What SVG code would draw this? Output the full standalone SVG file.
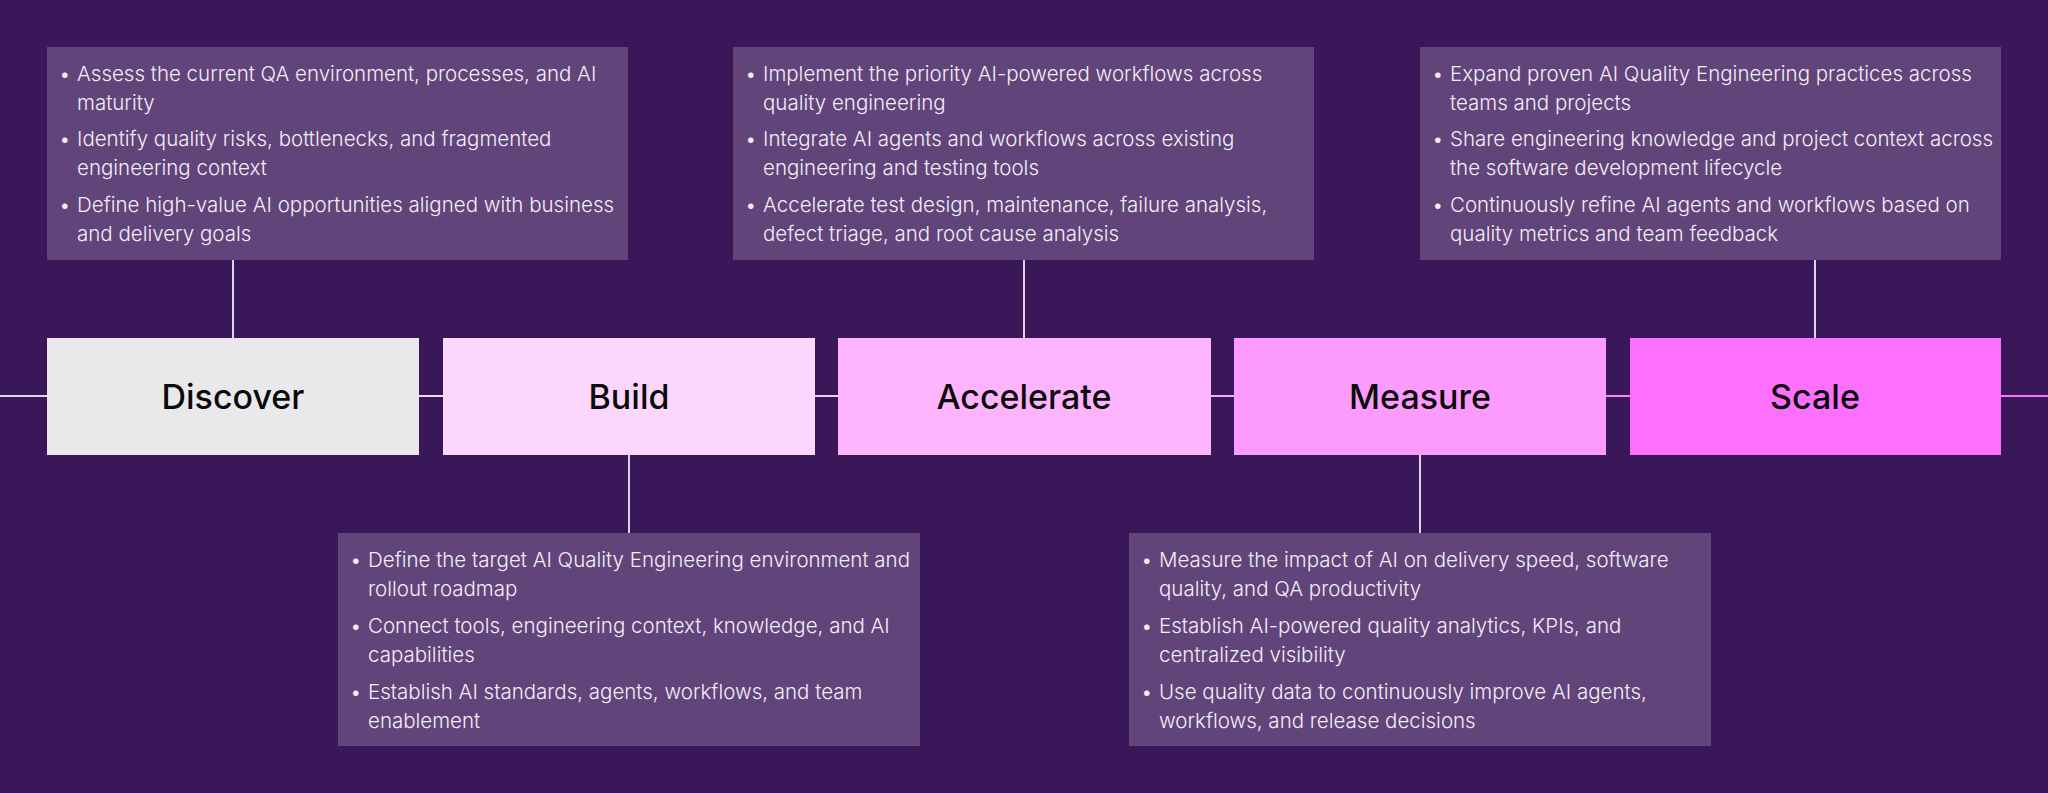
<svg xmlns="http://www.w3.org/2000/svg" width="2048" height="793" viewBox="0 0 2048 793">
<style>
.bg{fill:#3a1758}
.card{fill:#61447a}
.t{font-family:Inter,"Liberation Sans",sans-serif;font-weight:300;font-size:20.5px;fill:#f3eef6}
.s{font-family:Inter,"Liberation Sans",sans-serif;font-weight:500;font-size:34px;fill:#0b0b0b;text-anchor:middle}
.c{stroke:#ddd3e4;stroke-width:2;fill:none}
</style>
<rect class="bg" width="2048" height="793"/>
<g id="connectors">
<line class="c" x1="0" y1="396" x2="47" y2="396" stroke="#e6e2ea"/>
<line class="c" x1="419" y1="396" x2="443" y2="396" style="stroke:#f2d9f2"/>
<line class="c" x1="815" y1="396" x2="838" y2="396" style="stroke:#fbc6fb"/>
<line class="c" x1="1211" y1="396" x2="1234" y2="396" style="stroke:#fba7fb"/>
<line class="c" x1="1606" y1="396" x2="1630" y2="396" style="stroke:#fb85fb"/>
<line class="c" x1="2001" y1="396" x2="2048" y2="396" style="stroke:#fb75fb"/>
<line class="c" x1="233" y1="260" x2="233" y2="338"/>
<line class="c" x1="1024" y1="260" x2="1024" y2="338"/>
<line class="c" x1="1815" y1="260" x2="1815" y2="338"/>
<line class="c" x1="629" y1="455" x2="629" y2="533"/>
<line class="c" x1="1420" y1="455" x2="1420" y2="533"/>
</g>
<g id="discover"><rect x="47" y="338" width="372" height="117" fill="#e9e9ec"/><text class="s" x="233" y="409">Discover</text></g>
<g id="build"><rect x="443" y="338" width="372" height="117" fill="#fdd6fd"/><text class="s" x="629" y="409">Build</text></g>
<g id="accelerate"><rect x="838" y="338" width="373" height="117" fill="#fdb4fd"/><text class="s" x="1024" y="409">Accelerate</text></g>
<g id="measure"><rect x="1234" y="338" width="372" height="117" fill="#fd9afd"/><text class="s" x="1420" y="409">Measure</text></g>
<g id="scale"><rect x="1630" y="338" width="371" height="117" fill="#fd6ffd"/><text class="s" x="1815" y="409">Scale</text></g>
<g id="discover-notes"><rect class="card" x="47" y="47" width="581" height="213"/>
<text class="t"><tspan x="59" y="81">•</tspan><tspan x="77" y="81">Assess the current QA environment, processes, and AI</tspan><tspan x="77" y="110">maturity</tspan><tspan x="59" y="146">•</tspan><tspan x="77" y="146">Identify quality risks, bottlenecks, and fragmented</tspan><tspan x="77" y="175">engineering context</tspan><tspan x="59" y="212">•</tspan><tspan x="77" y="212">Define high-value AI opportunities aligned with business</tspan><tspan x="77" y="241">and delivery goals</tspan></text></g>
<g id="accelerate-notes"><rect class="card" x="733" y="47" width="581" height="213"/>
<text class="t"><tspan x="745" y="81">•</tspan><tspan x="763" y="81">Implement the priority AI-powered workflows across</tspan><tspan x="763" y="110">quality engineering</tspan><tspan x="745" y="146">•</tspan><tspan x="763" y="146">Integrate AI agents and workflows across existing</tspan><tspan x="763" y="175">engineering and testing tools</tspan><tspan x="745" y="212">•</tspan><tspan x="763" y="212">Accelerate test design, maintenance, failure analysis,</tspan><tspan x="763" y="241">defect triage, and root cause analysis</tspan></text></g>
<g id="scale-notes"><rect class="card" x="1420" y="47" width="581" height="213"/>
<text class="t"><tspan x="1432" y="81">•</tspan><tspan x="1450" y="81">Expand proven AI Quality Engineering practices across</tspan><tspan x="1450" y="110">teams and projects</tspan><tspan x="1432" y="146">•</tspan><tspan x="1450" y="146">Share engineering knowledge and project context across</tspan><tspan x="1450" y="175">the software development lifecycle</tspan><tspan x="1432" y="212">•</tspan><tspan x="1450" y="212">Continuously refine AI agents and workflows based on</tspan><tspan x="1450" y="241">quality metrics and team feedback</tspan></text></g>
<g id="build-notes"><rect class="card" x="338" y="533" width="582" height="213"/>
<text class="t"><tspan x="350" y="567">•</tspan><tspan x="368" y="567">Define the target AI Quality Engineering environment and</tspan><tspan x="368" y="596">rollout roadmap</tspan><tspan x="350" y="633">•</tspan><tspan x="368" y="633">Connect tools, engineering context, knowledge, and AI</tspan><tspan x="368" y="662">capabilities</tspan><tspan x="350" y="699">•</tspan><tspan x="368" y="699">Establish AI standards, agents, workflows, and team</tspan><tspan x="368" y="728">enablement</tspan></text></g>
<g id="measure-notes"><rect class="card" x="1129" y="533" width="582" height="213"/>
<text class="t"><tspan x="1141" y="567">•</tspan><tspan x="1159" y="567">Measure the impact of AI on delivery speed, software</tspan><tspan x="1159" y="596">quality, and QA productivity</tspan><tspan x="1141" y="633">•</tspan><tspan x="1159" y="633">Establish AI-powered quality analytics, KPIs, and</tspan><tspan x="1159" y="662">centralized visibility</tspan><tspan x="1141" y="699">•</tspan><tspan x="1159" y="699">Use quality data to continuously improve AI agents,</tspan><tspan x="1159" y="728">workflows, and release decisions</tspan></text></g>
</svg>
